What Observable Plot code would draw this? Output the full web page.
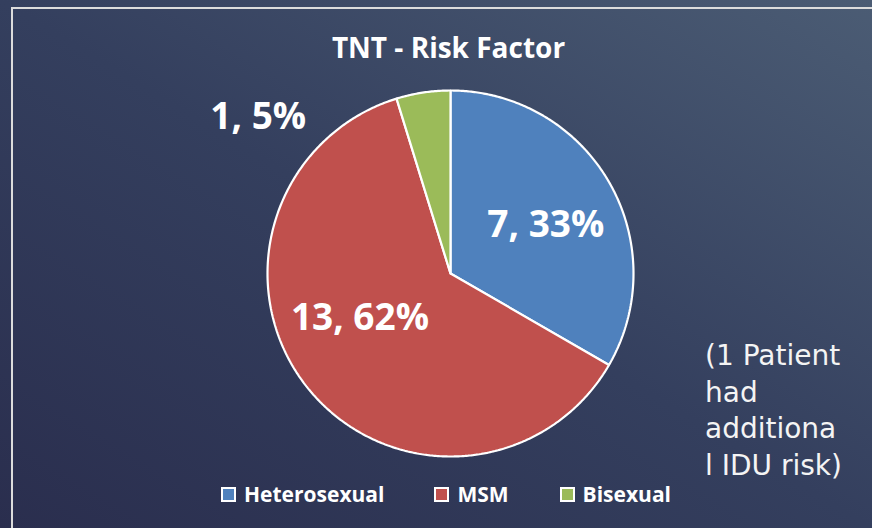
<!DOCTYPE html>
<html>
<head>
<meta charset="utf-8">
<script src="https://cdn.jsdelivr.net/npm/d3@7"></script>
<script src="https://cdn.jsdelivr.net/npm/@observablehq/plot@0.6"></script>
<style>
  html, body { margin: 0; padding: 0; }
  #stage {
    position: relative; width: 872px; height: 528px; overflow: hidden;
    background: linear-gradient(to top right, #2a2e4e 0%, #343f5e 50%, #4b5c74 100%);
    font-family: "Open Sans", "Noto Sans", sans-serif;
  }
  #frame {
    position: absolute; left: 11px; top: 7px; right: -10px; bottom: -10px;
    border-top: 2px solid #dcdcdc; border-left: 2px solid #dcdcdc;
  }
  #chart { position: absolute; left: 0; top: 0; }
  #legend {
    position: absolute; left: 221px; top: 480px; display: flex; align-items: center;
    color: #ffffff; font-weight: 700; font-size: 21px;
  }
  .item { display: flex; align-items: center; }
  .sw { width: 11px; height: 11px; border: 2px solid #ffffff; margin-right: 8px; }
  #note {
    position: absolute; left: 705px; top: 338px; color: #f4f4f4;
    font-family: "DejaVu Sans", "Lato", sans-serif; font-weight: 400;
    font-size: 28px; line-height: 36.5px; white-space: pre;
  }
</style>
</head>
<body>
<div id="stage">
  <div id="frame"></div>
  <div id="chart"></div>
  <div id="legend"></div>
  <div id="note"></div>
</div>
<script>
const title = "TNT - Risk Factor";
const categories = ["Heterosexual", "MSM", "Bisexual"];
const counts = [7, 13, 1];
const percents = ["33%", "62%", "5%"];
const colors = ["#4f81bd", "#c0504d", "#9bbb59"];
const noteLines = ["(1 Patient", "had", "additiona", "l IDU risk)"];

// Build slices (start at 12 o'clock, clockwise)
const total = d3.sum(counts);
let acc = 0;
const slices = categories.map((c, i) => {
  const a0 = acc / total * 2 * Math.PI;
  acc += counts[i];
  const a1 = acc / total * 2 * Math.PI;
  return {cat: c, count: counts[i], pct: percents[i], a0, a1, mid: (a0 + a1) / 2};
});

// Polygon outline for each slice (arc geometry sampled finely)
const outline = [];
for (const s of slices) {
  outline.push({cat: s.cat, x: 0, y: 0});
  const n = Math.max(2, Math.ceil((s.a1 - s.a0) / (Math.PI / 360)));
  for (let k = 0; k <= n; k++) {
    const a = s.a0 + (s.a1 - s.a0) * k / n;
    outline.push({cat: s.cat, x: Math.sin(a), y: Math.cos(a)});
  }
  outline.push({cat: s.cat, x: 0, y: 0});
}

const labelR = 0.57;
const lx = (s, r) => r * Math.sin(s.mid);
const ly = (s, r) => r * Math.cos(s.mid);
const labelText = s => `${s.count}, ${s.pct}`;
const offsets = {Heterosexual: [5, 4], MSM: [-9, -20], Bisexual: [-165, 25]};

const labelMarks = slices.map(s => {
  const outside = s.count / total < 0.1;
  const r = outside ? 1.0 : labelR;
  const [dx, dy] = offsets[s.cat];
  return Plot.text([s], {
    x: d => lx(d, r), y: d => ly(d, r), text: labelText,
    dx, dy, fill: "white", fontWeight: 700, fontSize: 37,
    fontFamily: "Open Sans, Noto Sans, sans-serif", textAnchor: "middle", lineAnchor: "middle"
  });
});

const plot = Plot.plot({
  width: 872, height: 528, margin: 0,
  style: {background: "transparent", overflow: "visible"},
  x: {domain: [-1, 1], range: [267, 633], axis: null},
  y: {domain: [-1, 1], range: [456, 90], axis: null},
  color: {domain: categories, range: colors},
  marks: [
    Plot.line(outline, {x: "x", y: "y", z: "cat", fill: "cat", stroke: "white", strokeWidth: 2.2, strokeLinejoin: "miter", curve: "linear"}),
    ...labelMarks,
    Plot.text([title], {frameAnchor: "top", dx: 12, dy: 49, text: d => d, fill: "white", fontWeight: 700, fontSize: 28,
      fontFamily: "Open Sans, Noto Sans, sans-serif", lineAnchor: "middle"})
  ]
});
document.getElementById("chart").appendChild(plot);

// Legend
const legend = document.getElementById("legend");
const gaps = [50, 51, 0];
categories.forEach((c, i) => {
  const item = document.createElement("div");
  item.className = "item";
  item.style.marginRight = gaps[i] + "px";
  const sw = document.createElement("div");
  sw.className = "sw";
  sw.style.background = colors[i];
  const t = document.createElement("span");
  t.textContent = c;
  item.appendChild(sw); item.appendChild(t);
  legend.appendChild(item);
});

document.getElementById("note").textContent = noteLines.join("\n");
</script>
</body>
</html>
